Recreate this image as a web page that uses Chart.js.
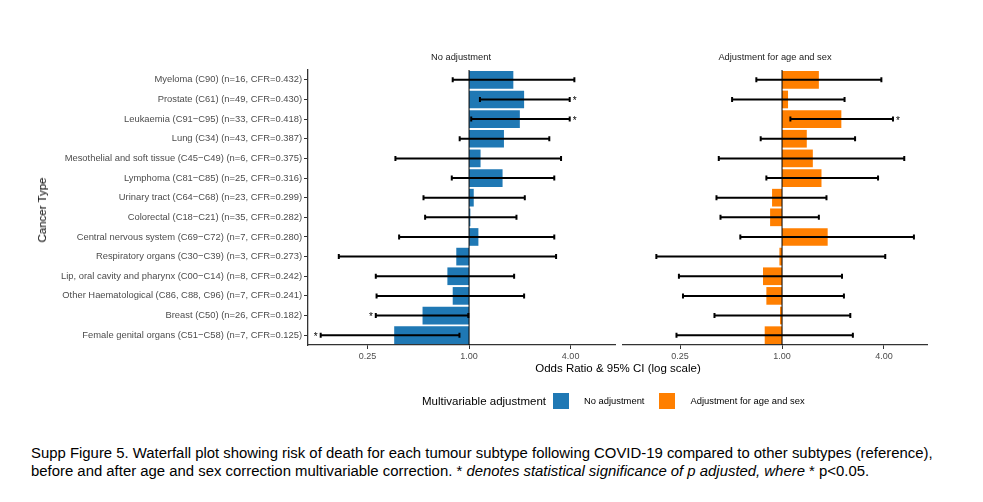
<!DOCTYPE html>
<html>
<head>
<meta charset="utf-8">
<script src="https://cdn.jsdelivr.net/npm/chart.js@4.4.1/dist/chart.umd.min.js"></script>
<style>
  html, body { margin: 0; padding: 0; background: #fff; }
  body { width: 983px; height: 502px; position: relative; overflow: hidden;
         font-family: "Liberation Sans", Arial, sans-serif; }
  canvas { position: absolute; top: 0; }
  #left { left: 0; }
  #right { left: 618px; }
  .abs { position: absolute; white-space: nowrap; }
  .strip { font-size: 9.3px; color: #1a1a1a; transform: translateX(-50%); top: 52px; }
  #xtitle { font-size: 11.5px; color: #000; left: 618px; top: 362px; transform: translateX(-50%); }
  #ytitle { font-size: 11.5px; color: #000; left: 42px; top: 210px;
            transform: translate(-50%, -50%) rotate(-90deg); }
  #legend { left: 422px; top: 392px; height: 17px; display: flex; align-items: center; }
  #legend .ltitle { font-size: 11.5px; margin-right: 7px; }
  #legend .key { width: 16px; height: 16px; margin-right: 15px; }
  #legend .lab { font-size: 9.4px; margin-right: 15px; }
  #caption { left: 31px; top: 444px; font-size: 14.9px; line-height: 18px; color: #000; }
</style>
</head>
<body>
<canvas id="left" width="620" height="380"></canvas>
<canvas id="right" width="320" height="380"></canvas>
<div class="abs strip" style="left:461px">No adjustment</div>
<div class="abs strip" style="left:775px">Adjustment for age and sex</div>
<div class="abs" id="xtitle">Odds Ratio &amp; 95% CI (log scale)</div>
<div class="abs" id="ytitle">Cancer Type</div>
<div class="abs" id="legend">
  <span class="ltitle">Multivariable adjustment</span>
  <span class="key" style="background:#1f78b4"></span>
  <span class="lab">No adjustment</span>
  <span class="key" style="background:#ff7f00"></span>
  <span class="lab">Adjustment for age and sex</span>
</div>
<div class="abs" id="caption">Supp Figure 5. Waterfall plot showing risk of death for each tumour subtype following COVID-19 compared to other subtypes (reference),<br>before and after age and sex correction multivariable correction. * <i>denotes statistical significance of p adjusted, where</i> * p&lt;0.05.</div>

<script>
// ─── Data ───────────────────────────────────────────────────

const cancerTypes = [
  'Myeloma (C90) (n=16, CFR=0.432)',
  'Prostate (C61) (n=49, CFR=0.430)',
  'Leukaemia (C91\u2212C95) (n=33, CFR=0.418)',
  'Lung (C34) (n=43, CFR=0.387)',
  'Mesothelial and soft tissue (C45\u2212C49) (n=6, CFR=0.375)',
  'Lymphoma (C81\u2212C85) (n=25, CFR=0.316)',
  'Urinary tract (C64\u2212C68) (n=23, CFR=0.299)',
  'Colorectal (C18\u2212C21) (n=35, CFR=0.282)',
  'Central nervous system (C69\u2212C72) (n=7, CFR=0.280)',
  'Respiratory organs (C30\u2212C39) (n=3, CFR=0.273)',
  'Lip, oral cavity and pharynx (C00\u2212C14) (n=8, CFR=0.242)',
  'Other Haematological (C86, C88, C96) (n=7, CFR=0.241)',
  'Breast (C50) (n=26, CFR=0.182)',
  'Female genital organs (C51\u2212C58) (n=7, CFR=0.125)',
];

// No adjustment
const orNoAdj = [1.83, 2.12, 2.00, 1.61, 1.17, 1.58, 1.066, 1.018, 1.136, 0.84, 0.744, 0.80, 0.53, 0.36];
const loNoAdj = [0.80, 1.16, 1.03, 0.88, 0.366, 0.79, 0.537, 0.549, 0.385, 0.169, 0.28, 0.283, 0.28, 0.132];
const hiNoAdj = [4.21, 3.95, 3.95, 2.99, 3.51, 3.20, 2.14, 1.91, 3.20, 3.28, 1.85, 2.12, 0.99, 0.877];
const sigNoAdj = [false, true, true, false, false, false, false, false, false, false, false, false, true, true];

// Adjustment for age and sex
const orAdj = [1.65, 1.085, 2.24, 1.40, 1.52, 1.71, 0.873, 0.85, 1.86, 0.965, 0.772, 0.808, 0.973, 0.79];
const loAdj = [0.705, 0.507, 1.12, 0.748, 0.423, 0.808, 0.41, 0.433, 0.567, 0.181, 0.246, 0.26, 0.399, 0.238];
const hiAdj = [3.86, 2.34, 4.52, 2.70, 5.27, 3.69, 1.83, 1.65, 6.01, 4.07, 2.26, 2.32, 2.53, 2.62];
const sigAdj = [false, false, true, false, false, false, false, false, false, false, false, false, false, false];

const xTicks = [0.25, 1, 4];

// ─── Error bars, reference line, stars ──────────────────────

const ciPlugin = {
  id: 'ci',
  afterDatasetsDraw(chart, args, opts) {
    const { ctx, chartArea } = chart;
    const xs = chart.scales.x, ys = chart.scales.y;
    ctx.save();
    // reference line at OR = 1
    const x1 = xs.getPixelForValue(1);
    ctx.strokeStyle = '#000';
    ctx.lineWidth = 1;
    ctx.beginPath();
    ctx.moveTo(x1, chartArea.top);
    ctx.lineTo(x1, chartArea.bottom);
    ctx.stroke();

    ctx.lineWidth = 2;
    ctx.font = '10px "Liberation Sans", Arial, sans-serif';
    ctx.fillStyle = '#000';
    ctx.textBaseline = 'middle';
    opts.lo.forEach((lo, i) => {
      const y = ys.getPixelForValue(i);
      const a = xs.getPixelForValue(lo);
      const b = xs.getPixelForValue(opts.hi[i]);
      ctx.beginPath();
      ctx.moveTo(a, y); ctx.lineTo(b, y);
      ctx.moveTo(a, y - 2.5); ctx.lineTo(a, y + 2.5);
      ctx.moveTo(b, y - 2.5); ctx.lineTo(b, y + 2.5);
      ctx.stroke();
      if (opts.sig[i]) {
        if (lo > 1) {
          ctx.textAlign = 'left';
          ctx.fillText('*', b + 3, y + 2);
        } else {
          ctx.textAlign = 'right';
          ctx.fillText('*', a - 3, y + 2);
        }
      }
    });
    ctx.restore();
  },
};

// ─── Panels ─────────────────────────────────────────────────

function makePanel(canvasId, or, lo, hi, sig, color, range, showLabels) {
  return new Chart(document.getElementById(canvasId), {
    type: 'bar',
    data: {
      labels: cancerTypes,
      datasets: [{
        data: or.map(v => [1, v]),
        backgroundColor: color,
        borderWidth: 0,
        barPercentage: 0.9,
        categoryPercentage: 1.0,
      }],
    },
    plugins: [ciPlugin],
    options: {
      indexAxis: 'y',
      responsive: false,
      animation: false,
      layout: {
        padding: showLabels
          ? { top: 70, left: 36, right: 5, bottom: 0 }
          : { top: 70, left: 5, right: 11, bottom: 0 },
      },
      plugins: {
        legend: { display: false },
        tooltip: { enabled: false },
        ci: { lo, hi, sig },
      },
      scales: {
        x: {
          type: 'logarithmic',
          min: range[0],
          max: range[1],
          afterBuildTicks: s => { s.ticks = xTicks.map(v => ({ value: v })); },
          afterFit: s => { s.height = 35; },
          border: { display: true, color: '#333', width: 1.3 },
          grid: { display: true, drawOnChartArea: false, drawTicks: true, tickLength: 4, tickColor: '#333', tickWidth: 1 },
          ticks: {
            color: '#4d4d4d',
            padding: 2,
            font: { family: '"Liberation Sans", Arial, sans-serif', size: 9 },
            callback: v => Number(v).toFixed(2),
            maxRotation: 0,
            autoSkip: false,
          },
        },
        y: {
          display: showLabels,
          afterFit: s => { s.width = showLabels ? 272 : 0; },
          border: { display: true, color: '#333', width: 1.3 },
          grid: { display: true, offset: false, drawOnChartArea: false, drawTicks: true, tickLength: 4, tickColor: '#333', tickWidth: 1 },
          ticks: {
            color: '#4d4d4d',
            padding: 2,
            font: { family: '"Liberation Sans", Arial, sans-serif', size: 9.4 },
            autoSkip: false,
          },
        },
      },
    },
  });
}

makePanel('left', orNoAdj, loNoAdj, hiNoAdj, sigNoAdj, '#1f78b4', [0.111, 7.33], true);
makePanel('right', orAdj, loAdj, hiAdj, sigAdj, '#ff7f00', [0.115, 7.18], false);
</script>
</body>
</html>
